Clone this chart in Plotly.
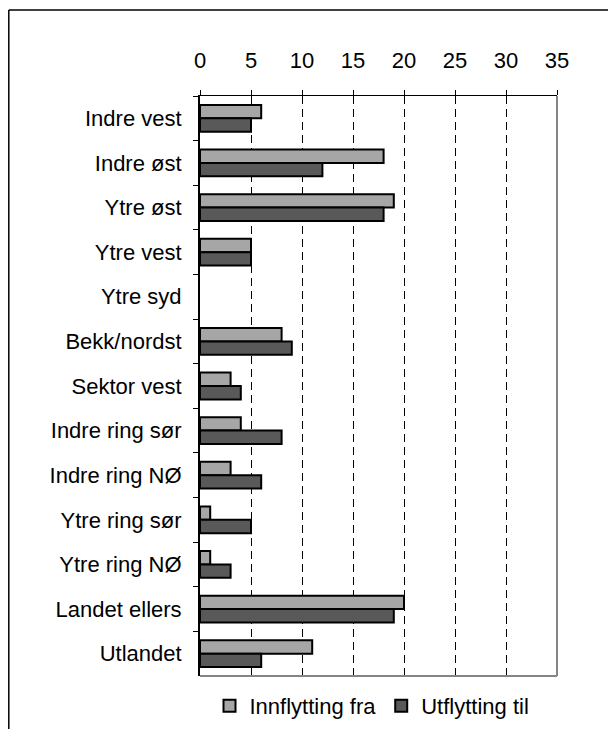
import plotly.graph_objects as go

categories = ["Indre vest", "Indre øst", "Ytre øst", "Ytre vest", "Ytre syd",
              "Bekk/nordst", "Sektor vest", "Indre ring sør", "Indre ring NØ",
              "Ytre ring sør", "Ytre ring NØ", "Landet ellers", "Utlandet"]
innflytting = [6, 18, 19, 5, 0, 8, 3, 4, 3, 1, 1, 20, 11]
utflytting = [5, 12, 18, 5, 0, 9, 4, 8, 6, 5, 3, 19, 6]
x_ticks = [0, 5, 10, 15, 20, 25, 30, 35]

FONT = "Liberation Sans, Arial, sans-serif"
FS = 22

def outline_widths(vals):
    return [0 if v == 0 else 2 for v in vals]

fig = go.Figure()
fig.add_trace(go.Bar(y=categories, x=innflytting, orientation="h", name="Innflytting fra",
                     marker=dict(color="#a6a6a6",
                                 line=dict(color="#000000", width=outline_widths(innflytting)))))
fig.add_trace(go.Bar(y=categories, x=utflytting, orientation="h", name="Utflytting til",
                     marker=dict(color="#595959",
                                 line=dict(color="#000000", width=outline_widths(utflytting)))))

# page has an 8px body margin; figure is 600x721 placed at (8, 8)
FW, FH = 600, 721
PX0, PX1, PY0, PY1 = 200, 557, 96, 676   # plot area in page pixels
L = PX0 - 8
T = PY0 - 8
R = FW - (PX1 - 8)
B = FH - (PY1 - 8)
W, H = PX1 - PX0, PY1 - PY0

def px(xp):
    return (xp - PX0) / W

def py(yp):
    return (PY1 - yp) / H

fig.update_layout(
    width=FW, height=FH,
    margin=dict(l=L, r=R, t=T, b=B, autoexpand=False),
    paper_bgcolor="white", plot_bgcolor="white",
    barmode="group", bargap=0.4, bargroupgap=0,
    font=dict(family=FONT, size=FS, color="#000000"),
    showlegend=True,
    legend=dict(orientation="h", x=px(372), xanchor="center", y=py(706), yanchor="middle",
                font=dict(family=FONT, size=FS), itemwidth=30, traceorder="normal",
                bgcolor="rgba(0,0,0,0)"),
    xaxis=dict(side="top", range=[0, 35], tickvals=x_ticks, ticks="outside", ticklen=5,
               tickcolor="#000000", showline=True, linecolor="#000000", linewidth=1,
               showgrid=True, gridcolor="#000000", gridwidth=1, griddash="8px,5px",
               zeroline=False, tickfont=dict(size=FS), ticklabelstandoff=13,
               fixedrange=True),
    yaxis=dict(autorange="reversed", tickson="boundaries", ticks="outside", ticklen=5,
               tickcolor="#000000", showline=True, linecolor="#000000", linewidth=2,
               showgrid=False, zeroline=False, tickfont=dict(size=FS),
               ticklabelstandoff=12, fixedrange=True),
    shapes=[
        # plot area right and bottom border (gray)
        dict(type="line", xref="x domain", yref="y domain", x0=1, x1=1, y0=0, y1=1,
             line=dict(color="#858585", width=2), layer="above"),
        dict(type="line", xref="x domain", yref="y domain", x0=0, x1=1, y0=0, y1=0,
             line=dict(color="#858585", width=2), layer="above"),
        # outer frame (top and left only)
        dict(type="line", xref="paper", yref="paper", x0=px(8.8), x1=px(630), y0=py(10), y1=py(10),
             line=dict(color="#000000", width=1.5)),
        dict(type="line", xref="paper", yref="paper", x0=px(8.8), x1=px(8.8), y0=py(10), y1=py(750),
             line=dict(color="#000000", width=1.5)),
    ],
)

fig.write_html("out.html")
